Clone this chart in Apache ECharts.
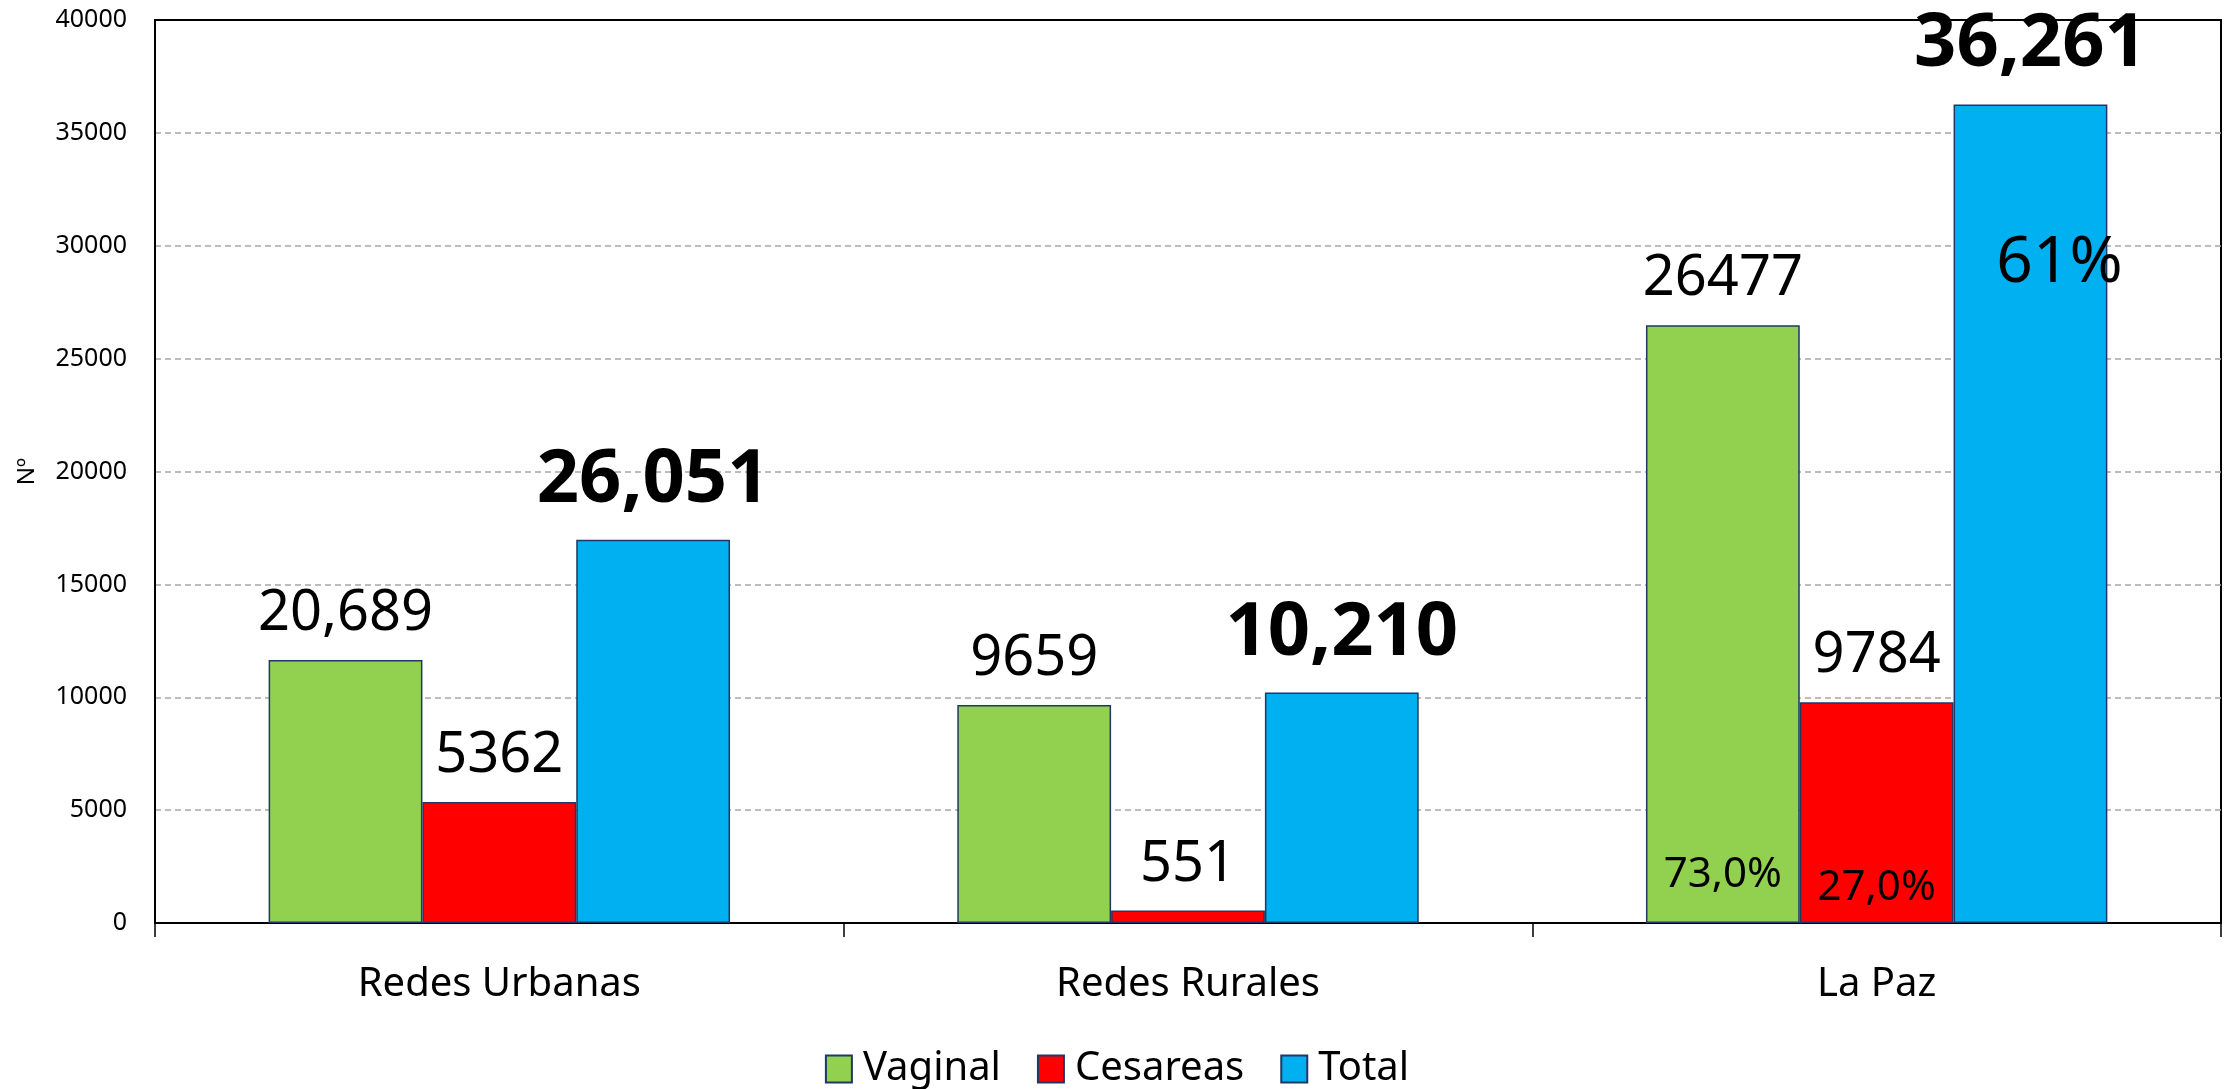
<!DOCTYPE html>
<html>
<head>
<meta charset="utf-8">
<script src="https://cdn.jsdelivr.net/npm/echarts@6/dist/echarts.min.js"></script>
<style>
  html, body { margin: 0; padding: 0; background: #fff; }
  #chart { width: 2234px; height: 1089px; }
</style>
</head>
<body>
<div id="chart"></div>
<script>
// categorias y series (alturas de barra)
const categories = ['Redes Urbanas', 'Redes Rurales', 'La Paz']
const vaginalValues = [11650, 9659, 26477]
const cesareasValues = [5362, 551, 9784]
const totalValues = [16980, 10210, 36261]
// textos de etiquetas tal como aparecen
const vaginalLabels = ['20,689', '9659', '26477']
const cesareasLabels = ['5362', '551', '9784']
const totalLabels = ['26,051', '10,210', '36,261']
// porcentajes dentro de las barras de La Paz
const pctVaginal = '73,0%'
const pctCesareas = '27,0%'
const pctTotal = '61%'
const yTicks = { min: 0, max: 40000, interval: 5000 }

const font = 'Noto Sans'
const chart = echarts.init(document.getElementById('chart'))

const valueLabel = (arr) => ({
  show: true,
  position: 'top',
  distance: 18,
  fontFamily: font,
  fontSize: 56,
  color: '#000',
  formatter: (p) => arr[p.dataIndex]
})

const pctPoint = (text, yVal, size, offsetX) => ({
  symbol: 'circle',
  symbolSize: 0,
  data: [{
    coord: ['La Paz', yVal],
    label: {
      show: true,
      position: 'inside',
      formatter: text,
      fontFamily: font,
      fontSize: size,
      color: '#000',
      offset: [offsetX, 0]
    }
  }]
})

const barBorder = { borderColor: '#1F3864', borderWidth: 1.5 }

const option = {
  animation: false,
  backgroundColor: '#fff',
  grid: {
    left: 155,
    right: 13,
    top: 20,
    bottom: 166,
    show: true,
    borderColor: '#000',
    borderWidth: 2
  },
  legend: {
    top: 1044,
    left: 'center',
    icon: 'rect',
    itemWidth: 26,
    itemHeight: 27,
    itemGap: 36,
    textStyle: { fontFamily: font, fontSize: 40, color: '#000', padding: [0, 0, 0, 6] },
    data: ['Vaginal', 'Cesareas', 'Total']
  },
  xAxis: {
    type: 'category',
    data: categories,
    axisLine: { lineStyle: { color: '#000', width: 2 } },
    axisTick: { show: true, length: 14, lineStyle: { color: '#000', width: 1.5 } },
    axisLabel: { fontFamily: font, fontSize: 40, color: '#000', margin: 42 }
  },
  yAxis: {
    type: 'value',
    min: yTicks.min,
    max: yTicks.max,
    interval: yTicks.interval,
    name: 'Nº',
    nameLocation: 'middle',
    nameRotate: 90,
    nameGap: 116,
    nameTextStyle: { fontFamily: font, fontSize: 24, color: '#000' },
    axisLine: { show: true, lineStyle: { color: '#000', width: 2 } },
    axisTick: { show: false },
    axisLabel: {
      fontFamily: font,
      fontSize: 25,
      color: '#000',
      margin: 28,
      formatter: (v) => String(v)
    },
    splitLine: {
      showMaxLine: false,
      lineStyle: { color: '#A6A6A6', type: [6, 4], width: 1.5 }
    }
  },
  series: [
    {
      name: 'Vaginal',
      type: 'bar',
      data: vaginalValues,
      barGap: 0,
      barCategoryGap: '33%',
      itemStyle: { color: '#92D050', ...barBorder },
      label: valueLabel(vaginalLabels),
      markPoint: pctPoint(pctVaginal, 2130, 42, 0)
    },
    {
      name: 'Cesareas',
      type: 'bar',
      data: cesareasValues,
      barGap: 0,
      barCategoryGap: '33%',
      itemStyle: { color: '#FF0000', ...barBorder },
      label: valueLabel(cesareasLabels),
      markPoint: pctPoint(pctCesareas, 1550, 42, 0)
    },
    {
      name: 'Total',
      type: 'bar',
      data: totalValues,
      barGap: 0,
      barCategoryGap: '33%',
      itemStyle: { color: '#00B0F0', ...barBorder },
      label: {
        ...valueLabel(totalLabels),
        fontSize: 74,
        fontWeight: 'bold',
        distance: 22
      },
      markPoint: pctPoint(pctTotal, 29200, 64, 29)
    }
  ]
}

chart.setOption(option)
</script>
</body>
</html>
